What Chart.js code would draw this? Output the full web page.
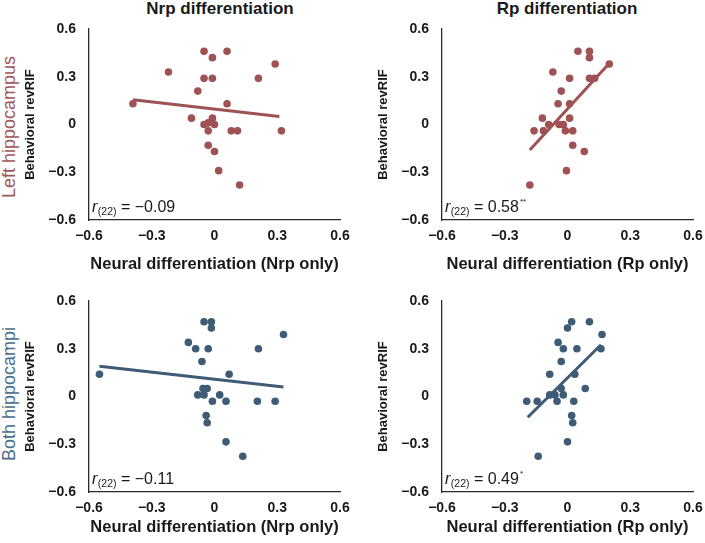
<!DOCTYPE html>
<html><head><meta charset="utf-8">
<script src="https://cdn.jsdelivr.net/npm/chart.js@4.4.1/dist/chart.umd.min.js"></script>
<style>
html,body{margin:0;padding:0;background:#fff;overflow:hidden;width:705px;height:543px;}
body{position:relative;font-family:'Liberation Sans',Arial,sans-serif;}
canvas{position:absolute;}
.col{position:absolute;top:0;font-weight:bold;font-size:17px;line-height:18px;color:#1a1a1a;transform:translateX(-50%);white-space:nowrap;}
.row{position:absolute;font-size:18px;line-height:20px;white-space:nowrap;transform:translate(-50%,-50%) rotate(-90deg);}
</style></head><body>
<div class="col" style="left:220px">Nrp differentiation</div>
<div class="col" style="left:567px">Rp differentiation</div>
<div class="row" style="left:9px;top:127px;color:#a0585a">Left hippocampus</div>
<div class="row" style="left:9px;top:394px;color:#4b6d8c">Both hippocampi</div>
<canvas id="c0" width="332" height="262" style="left:18px;top:20px"></canvas>
<canvas id="c1" width="332" height="262" style="left:371px;top:20px"></canvas>
<canvas id="c2" width="332" height="248" style="left:18px;top:292px"></canvas>
<canvas id="c3" width="332" height="248" style="left:371px;top:292px"></canvas>
<script>
// ---- data ----
const tickValues = [-0.6, -0.3, 0, 0.3, 0.6];
const tickLabels = ['\u22120.6', '\u22120.3', '0', '0.3', '0.6'];

// Left hippocampus, Nrp differentiation
const leftNrpX = [-0.39, -0.22, -0.05, -0.01, 0.06, 0.29, -0.05, -0.01, 0.21, -0.08, 0.06, -0.11, -0.01, -0.05, 0.00, -0.03, -0.03, 0.08, 0.11, 0.32, -0.03, 0.00, 0.02, 0.12];
const leftNrpY = [0.13, 0.33, 0.46, 0.42, 0.46, 0.38, 0.29, 0.29, 0.29, 0.21, 0.13, 0.04, 0.04, 0.00, 0.00, 0.01, -0.04, -0.04, -0.04, -0.04, -0.13, -0.17, -0.29, -0.38];
const leftNrpFitX = [-0.39, 0.31];
const leftNrpFitY = [0.155, 0.05];

// Left hippocampus, Rp differentiation
const leftRpX = [0.05, 0.105, 0.105, 0.20, -0.07, 0.01, 0.105, 0.13, -0.03, -0.045, 0.01, -0.12, 0.01, -0.09, -0.04, -0.02, -0.16, -0.115, -0.01, 0.025, 0.025, 0.08, -0.005, -0.18];
const leftRpY = [0.46, 0.46, 0.42, 0.38, 0.33, 0.29, 0.29, 0.29, 0.21, 0.13, 0.13, 0.04, 0.04, 0.00, 0.00, 0.00, -0.04, -0.04, -0.04, -0.04, -0.13, -0.17, -0.29, -0.38];
const leftRpFitX = [-0.18, 0.20];
const leftRpFitY = [-0.16, 0.385];

// Both hippocampi, Nrp differentiation
const bothNrpX = [-0.55, -0.05, -0.015, -0.015, 0.33, -0.125, -0.09, -0.03, 0.21, -0.06, 0.07, -0.055, -0.035, -0.08, -0.05, 0.025, -0.01, 0.055, 0.205, 0.29, -0.04, -0.035, 0.055, 0.135];
const bothNrpY = [0.14, 0.47, 0.47, 0.43, 0.39, 0.34, 0.30, 0.30, 0.30, 0.22, 0.14, 0.05, 0.05, 0.01, 0.01, 0.01, -0.03, -0.03, -0.03, -0.03, -0.12, -0.165, -0.285, -0.375];
const bothNrpFitX = [-0.55, 0.33];
const bothNrpFitY = [0.19, 0.06];

// Both hippocampi, Rp differentiation
const bothRpX = [0.02, 0.105, 0.00, 0.165, -0.045, -0.02, 0.045, 0.16, -0.03, -0.085, 0.035, 0.085, -0.03, -0.085, -0.06, -0.02, -0.195, -0.145, -0.05, 0.03, 0.02, 0.025, 0.00, -0.14];
const bothRpY = [0.47, 0.47, 0.43, 0.39, 0.34, 0.30, 0.30, 0.30, 0.22, 0.14, 0.14, 0.05, 0.05, 0.01, 0.01, 0.01, -0.03, -0.03, -0.03, -0.03, -0.12, -0.165, -0.285, -0.375];
const bothRpFitX = [-0.19, 0.16];
const bothRpFitY = [-0.13, 0.325];

const rDf = '22';
const rValues = ['\u22120.09', '0.58', '\u22120.11', '0.49'];
const rSig = ['', '**', '', '*'];
const xTitles = ['Neural differentiation (Nrp only)', 'Neural differentiation (Rp only)', 'Neural differentiation (Nrp only)', 'Neural differentiation (Rp only)'];
const yTitle = 'Behavioral revRIF';

// ---- drawing ----
const FONT = "'Liberation Sans', Arial, sans-serif";
const RED = '#9e5254', BLUE = '#3e5c76', INK = '#1a1a1a';
Chart.defaults.font.family = FONT;
Chart.defaults.color = INK;

const pts = (xs, ys) => xs.map((x, i) => ({x: x, y: ys[i]}));

const annotPlugin = {
  id: 'annot',
  afterDatasetsDraw(chart, args, opts) {
    const ctx = chart.ctx, ca = chart.chartArea;
    let x = ca.left + 3, y = ca.bottom - 8;
    ctx.save();
    ctx.fillStyle = INK; ctx.textAlign = 'left'; ctx.textBaseline = 'alphabetic';
    ctx.font = 'italic 16px ' + FONT;
    ctx.fillText('r', x, y); x += ctx.measureText('r').width + 0.5;
    ctx.font = '10.5px ' + FONT;
    const sub = '(' + rDf + ')';
    ctx.fillText(sub, x, y + 3); x += ctx.measureText(sub).width;
    ctx.font = '16px ' + FONT;
    const main = ' = ' + opts.value;
    ctx.fillText(main, x, y); x += ctx.measureText(main).width;
    if (opts.sig) { ctx.font = '8px ' + FONT; ctx.fillText(opts.sig, x + 1, y - 8); }
    ctx.restore();
  }
};

const panels = [
  {id: 'c0', xs: leftNrpX, ys: leftNrpY, fx: leftNrpFitX, fy: leftNrpFitY, color: RED, xh: 62, tpb: 8},
  {id: 'c1', xs: leftRpX, ys: leftRpY, fx: leftRpFitX, fy: leftRpFitY, color: RED, xh: 62, tpb: 8},
  {id: 'c2', xs: bothNrpX, ys: bothNrpY, fx: bothNrpFitX, fy: bothNrpFitY, color: BLUE, xh: 48, tpb: 3},
  {id: 'c3', xs: bothRpX, ys: bothRpY, fx: bothRpFitX, fy: bothRpFitY, color: BLUE, xh: 48, tpb: 3}
];

const setTicks = (scale) => { scale.ticks = tickValues.map(v => ({value: v})); };
const fmtTick = (v) => { const i = tickValues.findIndex(t => Math.abs(t - v) < 1e-9); return i >= 0 ? tickLabels[i] : ''; };
const noPad = (s) => { s.paddingLeft = 0; s.paddingRight = 0; s.paddingTop = 0; s.paddingBottom = 0; };

panels.forEach((p, k) => {
  new Chart(document.getElementById(p.id), {
    type: 'scatter',
    data: {
      datasets: [
        {type: 'line', data: pts(p.fx, p.fy), borderColor: p.color, borderWidth: 3, pointRadius: 0, fill: false, order: 0, borderCapStyle: 'butt'},
        {data: pts(p.xs, p.ys), backgroundColor: p.color, borderColor: p.color, borderWidth: 0, pointRadius: 3.8, order: 1}
      ]
    },
    plugins: [annotPlugin],
    options: {
      responsive: false, animation: false, devicePixelRatio: 1,
      layout: {padding: {left: 0, right: 10, top: 9, bottom: 0}},
      plugins: {legend: {display: false}, tooltip: {enabled: false}, annot: {value: rValues[k], sig: rSig[k]}},
      scales: {
        x: {
          type: 'linear', min: -0.6, max: 0.6,
          afterBuildTicks: setTicks,
          afterFit: (s) => { s.height = p.xh; noPad(s); },
          grid: {display: false, drawTicks: false},
          border: {display: true, color: '#2a2a2a', width: 1.3},
          ticks: {callback: fmtTick, padding: 8, maxRotation: 0, autoSkip: false, font: {size: 14, weight: 'bold'}, color: INK},
          title: {display: true, text: xTitles[k], font: {size: 16.5, weight: 'bold'}, color: INK, padding: {top: 0, bottom: p.tpb}}
        },
        y: {
          type: 'linear', min: -0.6, max: 0.6,
          afterBuildTicks: setTicks,
          afterFit: (s) => { s.width = 71; noPad(s); },
          grid: {display: false, drawTicks: false},
          border: {display: true, color: '#2a2a2a', width: 1.3},
          ticks: {callback: fmtTick, padding: 13, autoSkip: false, font: {size: 14, weight: 'bold'}, color: INK},
          title: {display: true, text: yTitle, font: {size: 13, weight: 'bold'}, color: INK, padding: {top: 5, bottom: 0}}
        }
      }
    }
  });
});
</script>
</body></html>
